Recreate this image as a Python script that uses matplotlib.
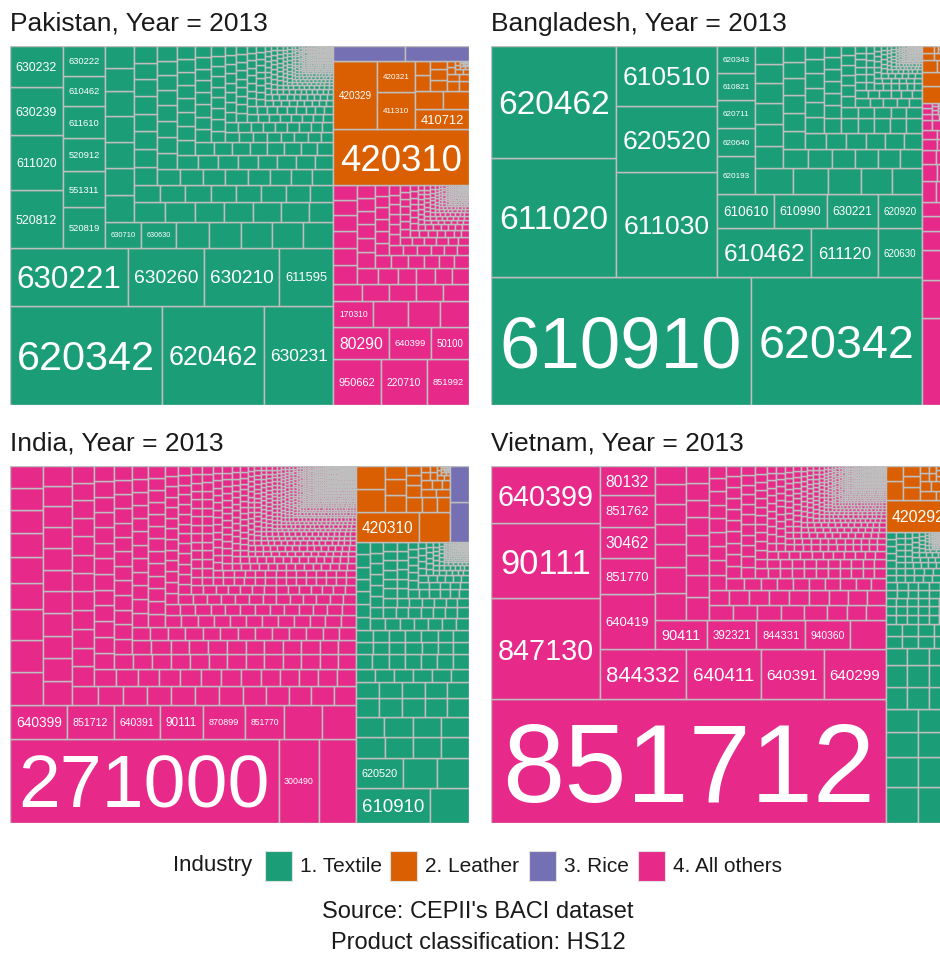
import matplotlib
matplotlib.use("Agg")
import matplotlib.pyplot as plt
from matplotlib.patches import Rectangle
from matplotlib.collections import PatchCollection

plt.rcParams['font.family'] = ['Liberation Sans', 'DejaVu Sans']


def vals(text):
    return [int(t) for t in text.split()]


# ---------------- data ----------------
industries = ["1. Textile", "2. Leather", "3. Rice", "4. All others"]
industry_colors = ["#1B9E77", "#D95F02", "#7570B3", "#E7298A"]
countries = ["Pakistan", "Bangladesh", "India", "Vietnam"]
year = 2013

# ---- Pakistan
pk_tex_codes = ["620342", "620462", "630231", "630221", "630260", "630210", "611595", "520812",
                "611020", "630239", "630232", "520819", "551311", "520912", "611610", "610462",
                "630222", "630710", "630630"]
pk_tex_values = [
    15048, 10100, 6900, 6800, 4400, 4350, 3132, 3021, 2915, 2491, 2173,
    1710, 1530, 1400, 1350, 1300, 1250, 940, 910, 870, 830, 815, 810,
    800, 770, 770, 740, 740, 700, 670, 620, 590, 570, 560, 550, 540, 530,
    470, 460, 455, 450, 445, 440, 435]
pk_tex_small = vals("""
425 420 415 410 405 400 395 390 385 380 370 365 360 355 350 345 340 335 330 325 320 315 310 305 300
296 292 288 284 280 276 272 268 264 260 256 252 248 244 240 236 232 228 224 220 216 212 208 204 200
196 192 188 184 180 177 174 171 168 165 162 159 156 153 150 148 146 144 142 140
138 136 134 132 130 128 126 124 122 120 118 116 114 112 110 108 106 104 102 100
98 97 96 95 94 93 92 91 90 89 88 87 86 85 84 83 82 81 80 79 78 77 76 75 74 73 72 71 70 69
68 67 66 65 64 63 62 61 60 60
58 57 56 55 54 53 52 51 50 49 48 47 46 45 44 43 42 41 40 40 39 39 38 38 37 37 36 36 35 35
34 34 33 33 32 32 31 31 30 30 29 29 28 28 28 27 27 27 26 26 26 25 25 25 24 24 24 23 23 23
22 22 22 21 21 21 21 20 20 20 20
19 19 19 19 19 18 18 18 18 18 17 17 17 17 17 17 16 16 16 16 16 16 15 15 15 15 15 15 15
14 14 14 14 14 14 14 13 13 13 13 13 13 13 13 12 12 12 12 12 12 12 12 11 11 11 11 11 11 11 11
10 10 10 10 10 10 10 10 10 9 9 9 9 9 9 9 9 9 8 8 8 8 8 8 8 8 8 8 7 7 7 7 7 7 7 7 7 7
6 6 6 6 6 6 6 6 6 6
5 5 5 5 5 5 5 5 5 5 5 5 5 5 5 5 5 5 5 5 5 5 5 5 5 5 5 5 5 5
4 4 4 4 4 4 4 4 4 4 4 4 4 4 4 4 4 4 4 4 4 4 4 4 4 4 4 4 4 4 4 4 4 4 4 4 4 4 4 4
4 4 4 4 4 4 4 4 4 4
3 3 3 3 3 3 3 3 3 3 3 3 3 3 3 3 3 3 3 3 3 3 3 3 3 3 3 3 3 3 3 3 3 3 3 3 3 3 3 3
3 3 3 3 3 3 3 3 3 3 3 3 3 3 3 3 3 3 3 3 3 3 3 3 3 3 3 3 3 3
2 2 2 2 2 2 2 2 2 2 2 2 2 2 2 2 2 2 2 2 2 2 2 2 2 2 2 2 2 2 2 2 2 2 2 2 2 2 2 2
2 2 2 2 2 2 2 2 2 2 2 2 2 2 2 2 2 2 2 2 2 2 2 2 2 2 2 2 2 2 2 2 2 2 2 2 2 2 2 2
1 1 1 1 1 1 1 1 1 1 1 1 1 1 1 1 1 1 1 1 1 1 1 1 1 1 1 1 1 1 1 1 1 1 1 1 1 1 1 1
1 1 1 1 1 1 1 1 1 1
""")
pk_lea_codes = ["420310", "420329", "411310", "420321", "410712"]
pk_lea_values = [7600, 3000, 1400, 1150, 1100, 500, 460, 240, 220, 190, 170, 140, 120, 100, 85,
                 70, 60, 50, 40, 32, 25, 20, 15, 12, 9, 7, 5, 4, 3, 2, 2, 1, 3, 3, 3, 2, 2, 2]
pk_rice_codes = []
pk_rice_values = [1065, 945]
pk_oth_codes = ["950662", "220710", "851992", "80290", "640399", "50100", "170310"]
pk_oth_values = [2200, 2100, 1960, 1770, 1360, 1220, 1000, 865, 810, 730, 500, 490, 480, 470, 460]
pk_oth_small = vals("""
440 420 400 380 360 345 330 315 300 290 280 270 260 250 240 230 220 212 206 200
195 190 185 180 175 170 165 160 155 150 146 142 138 134 130 126 122 118 114 110 106 102 98 95 92 89 86 83 80 78
76 74 72 70 68 66 64 62 60 58 56 54 52 50 49 48 47 46 45 44 43 42 41 40 39 38 37 36 35 34
33 32 31 30 30 29 29 28 28 27 27 26 26 25 25 25 24 24 24 23
22 22 22 21 21 21 20 20 20 19 19 19 18 18 18 17 17 17 17 16 16 16 16 15 15 15 15
14 14 14 14 13 13 13 13 12 12 12 12 11 11 11 11 11 10 10 10 10 10 9 9 9 9 9
8 8 8 8 8 8 7 7 7 7 7 7 6 6 6 6 6 6
5 5 5 5 5 5 5 5 5 5 5 5 5 5 5 4 4 4 4 4 4 4 4 4 4 4 4 4 4 4 4 4 4 4 4 4 4 4 4 4
3 3 3 3 3 3 3 3 3 3 3 3 3 3 3 3 3 3 3 3 3 3 3 3 3 3 3 3 3 3 3 3 3 3 3
2 2 2 2 2 2 2 2 2 2 2 2 2 2 2 2 2 2 2 2 2 2 2 2 2 2 2 2 2 2 2 2 2 2 2 2 2 2 2 2
1 1 1 1 1 1 1 1 1 1 1 1 1 1 1 1 1 1 1 1 1 1 1 1 1 1 1 1 1 1
""")

# ---- Bangladesh
bd_tex_codes = ["610910", "620342", "611020", "620462", "611030", "620520", "610510", "610462",
                "611120", "620630", "610610", "610990", "630221", "620920", "620193", "620640",
                "620711", "610821", "620343"]
bd_tex_values = [
    33020, 21717, 14880, 13888, 10500, 6700, 6000, 4560, 3264, 2112, 1938, 1800, 1734, 1496,
    1400, 1080, 1050, 1020, 1000, 960, 900, 850, 800, 760, 620, 590, 590, 560, 520, 500, 470, 465, 430, 430]
bd_tex_small = vals("""
420 410 400 390 380 370 360 350 340 330 320 310 300 292 285 278 271 264 257 250
245 240 235 230 225 220 215 210 205 200 195 190 185 180 175 170 165 160 155 150 145 140 135 130 125 120 115 110 105 100
96 92 88 85 82 79 76 73 70 68 66 64 62 60 58 56 54 52 50 48 47 46 45 44 43 42 41 40 39 38 37 36 35 34 33 32 31 30 30 30
29 28 27 26 25 24 23 22 21 20 20 19 19 18 18 17 17 16 16 15 15 15 14 14 14 13 13 13 12 12 12 11 11 11
10 10 10 10 9 9 9 9 8 8 8 8 7 7 7 7 6 6 6 6 6
5 5 5 5 5 5 5 5 5 5 5 5 5 5 5 4 4 4 4 4 4 4 4 4 4 4 4 4 4 4 4 4 4 4 4
3 3 3 3 3 3 3 3 3 3 3 3 3 3 3 3 3 3 3 3 3 3 3 3 3 3 3 3 3 3
2 2 2 2 2 2 2 2 2 2 2 2 2 2 2 2 2 2 2 2 2 2 2 2 2 2 2 2 2 2 2 2 2 2 2
1 1 1 1 1 1 1 1 1 1 1 1 1 1 1 1 1 1 1 1 1 1 1 1 1
""")
bd_lea_codes = []
bd_lea_values = [480, 380, 180, 160, 90, 80, 60, 50, 35, 25, 18, 12, 8, 5, 3, 2, 3, 3, 2, 2, 2]
bd_oth_codes = []
bd_oth_values = [2460, 1060, 840, 560, 420, 380, 300, 300, 260, 220, 200, 190, 170, 150, 130, 115,
                 100, 90, 80, 70, 60, 52, 45, 38, 32, 27, 22, 18, 15, 12, 10, 8, 6, 5, 4, 3, 2, 2, 1, 1,
                 4, 4, 4, 4, 4, 4, 3, 3, 3, 3, 3, 3, 3, 3, 2, 2, 2, 2, 2, 2, 2, 2, 2, 2]

# ---- India
in_oth_codes = ["271000", "300490", "", "640399", "851712", "640391", "90111", "870899", "851770"]
in_oth_values = [
    21760, 3280, 2960, 1856, 1500, 1480, 1410, 1344, 1280, 1216, 1088,
    1056, 1023, 990, 858, 825, 760, 740, 726, 693,
    650, 640, 630, 620, 610, 600, 595, 585, 575, 565, 555,
    470, 460, 455, 450, 445, 440, 435, 430, 425, 420, 415,
    410, 405, 400, 398, 395, 392, 390, 388, 385, 382, 380, 378,
    350, 345, 340, 335, 330, 325, 320, 315, 310, 305, 300, 295]
in_oth_small = vals("""
300 298 296 294 292 290 288 286 284 282 280 278 276 274 272 270 268 266 264 262
260 259 258 257 256 255 254 253 252 251 299 295 291 287 283 279 275 271 267 263
250 248 246 244 242 240 238 236 234 232 230 228 226 224 222 220 218 216 214 212
210 208 206 204 202 200 198 196 194 192 190 188 186 184 182 180 178 176 174 172
170 168 166 164 162 160 158 157 156 155 154 153 152 151 150 149 148 147 146 145
249 245 241 237 233 229 225 221 217 213 209 205 201 197 193 189 185 181 177 173
144 143 142 141 140 139 138 137 136 135 134 133 132 131 130 129 128 127 126 125
124 123 122 121 120 119 118 117 116 115 114 113 112 111 110 109 108 107 106 105
104 103 102 101 100 99 99 98 98 97 97 96 96 95 95 94 94 93 93 92
92 91 91 90 90 89 89 88 88 87 87 86 86 85 85 84 84 83 83 82
82 81 81 80 80 79 79 78 78 77 77 76 76 75 75 74 74 73 73 72
71 71 71 70 70 70 69 69 69 68 68 68 67 67 67 66 66 66 65 65
65 64 64 64 63 63 63 62 62 62 61 61 61 60 60 60 59 59 59 58
58 58 57 57 57 56 56 56 55 55 55 54 54 54 53 53 53 52 52 52
51 51 51 51 50 50 50 50 49 49 49 49 48 48 48 48 47 47 47 47
46 46 46 46 45 45 45 45 44 44 44 44 43 43 43 43 42 42 42 42
41 41 41 41 40 40 40 40 39 39 39 39 38 38 38 38 37 37 37 37
36 36 36 36 35 35 35 35 34 34 34 34 33 33 33 33 32 32 32 32
31 31 31 31 30 30 30 30 29 29 29 29 29 29 29 29 28 28 28 28
28 28 28 28 27 27 27 27 27 27 27 27 26 26 26 26 26 26 26 26
25 25 25 25 25 25 25 25 24 24 24 24 24 24 24 24 24 24 23 23
23 23 23 23 23 23 23 23 22 22 22 22 22 22 22 22 22 22 21 21
21 21 21 21 21 21 21 21 20 20 20 20 20 20 20 20 20 20 20 20
19 19 19 19 19 19 19 19 19 19 19 19 18 18 18 18 18 18 18 18
18 18 18 18 17 17 17 17 17 17 17 17 17 17 17 17 17 17 16 16
16 16 16 16 16 16 16 16 16 16 16 16 15 15 15 15 15 15 15 15
15 15 15 15 15 15 15 15 14 14 14 14 14 14 14 14 14 14 14 14
14 14 13 13 13 13 13 13 13 13 13 13 13 13 13 13 13 13 12 12
12 12 12 12 12 12 12 12 12 12 12 12 12 12 12 12 11 11 11 11
11 11 11 11 11 11 11 11 11 11 11 11 11 11 11 11 10 10 10 10
10 10 10 10 10 10 10 10 10 10 10 10 10 10 10 10 10 10 9 9
9 9 9 9 9 9 9 9 9 9 9 9 9 9 9 9 9 9 9 9
9 9 8 8 8 8 8 8 8 8 8 8 8 8 8 8 8 8 8 8
8 8 8 8 8 8 8 8 7 7 7 7 7 7 7 7 7 7 7 7
7 7 7 7 7 7 7 7 7 7 7 7 7 7 7 7 6 6 6 6
6 6 6 6 6 6 6 6 6 6 6 6 6 6 6 6 6 6 6 6
6 6 6 6 6 6
5 5 5 5 5 5 5 5 5 5 5 5 5 5 5 5 5 5 5 5 5 5 5 5 5 5 5 5 5 5 5 5 5 5 5 5 5 5 5 5
5 5 5 5 5 5 5 5 5 5 5 5 5 5 5 5 5 5 5 5 5 5 5 5 5 5 5 5 5 5 5 5 5 5 5 5 5 5 5 5
4 4 4 4 4 4 4 4 4 4 4 4 4 4 4 4 4 4 4 4 4 4 4 4 4 4 4 4 4 4 4 4 4 4 4 4 4 4 4 4
4 4 4 4 4 4 4 4 4 4 4 4 4 4 4 4 4 4 4 4 4 4 4 4 4 4 4 4 4 4 4 4 4 4 4 4 4 4 4 4
4 4 4 4 4 4 4 4 4 4 4 4 4 4 4 4 4 4 4 4 4 4 4 4 4 4 4 4 4 4 4 4 4 4 4 4 4 4 4 4
3 3 3 3 3 3 3 3 3 3 3 3 3 3 3 3 3 3 3 3 3 3 3 3 3 3 3 3 3 3 3 3 3 3 3 3 3 3 3 3
3 3 3 3 3 3 3 3 3 3 3 3 3 3 3 3 3 3 3 3 3 3 3 3 3 3 3 3 3 3 3 3 3 3 3 3 3 3 3 3
3 3 3 3 3 3 3 3 3 3 3 3 3 3 3 3 3 3 3 3 3 3 3 3 3 3 3 3 3 3 3 3 3 3 3 3 3 3 3 3
3 3 3 3 3 3 3 3 3 3 3 3 3 3 3 3 3 3 3 3 3 3 3 3 3 3 3 3 3 3 3 3 3 3 3 3 3 3 3 3
3 3 3 3 3 3 3 3 3 3 3 3 3 3 3 3 3 3 3 3 3 3 3 3 3 3 3 3 3 3 3 3 3 3 3 3 3 3 3 3
2 2 2 2 2 2 2 2 2 2 2 2 2 2 2 2 2 2 2 2 2 2 2 2 2 2 2 2 2 2 2 2 2 2 2 2 2 2 2 2
2 2 2 2 2 2 2 2 2 2 2 2 2 2 2 2 2 2 2 2 2 2 2 2 2 2 2 2 2 2 2 2 2 2 2 2 2 2 2 2
2 2 2 2 2 2 2 2 2 2 2 2 2 2 2 2 2 2 2 2 2 2 2 2 2 2 2 2 2 2 2 2 2 2 2 2 2 2 2 2
2 2 2 2 2 2 2 2 2 2 2 2 2 2 2 2 2 2 2 2 2 2 2 2 2 2 2 2 2 2 2 2 2 2 2 2 2 2 2 2
2 2 2 2 2 2 2 2 2 2 2 2 2 2 2 2 2 2 2 2 2 2 2 2 2 2 2 2 2 2 2 2 2 2 2 2 2 2 2 2
2 2 2 2 2 2 2 2 2 2 2 2 2 2 2 2 2 2 2 2 2 2 2 2 2 2 2 2 2 2 2 2 2 2 2 2 2 2 2 2
1 1 1 1 1 1 1 1 1 1 1 1 1 1 1 1 1 1 1 1 1 1 1 1 1 1 1 1 1 1 1 1 1 1 1 1 1 1 1 1
1 1 1 1 1 1 1 1 1 1 1 1 1 1 1 1 1 1 1 1 1 1 1 1 1 1 1 1 1 1 1 1 1 1 1 1 1 1 1 1
1 1 1 1 1 1 1 1 1 1 1 1 1 1 1 1 1 1 1 1 1 1 1 1 1 1 1 1 1 1 1 1 1 1 1 1 1 1 1 1
1 1 1 1 1 1 1 1 1 1 1 1 1 1 1 1 1 1 1 1 1 1 1 1 1 1 1 1 1 1
""")
in_tex_codes = ["610910", "", "620520"]
in_tex_values = [
    2520, 1330, 1320, 960, 880, 600, 590, 580, 570, 540, 535, 530, 525,
    420, 415, 410, 405, 400, 375, 370, 365, 360, 355,
    240, 238, 236, 234, 232, 230, 226, 224, 222, 220, 218, 216,
    212, 208, 204, 200, 196, 192, 188, 184, 180, 176, 172, 168, 164, 160]
in_tex_small = vals("""
200 196 192 188 184 180 176 172 168 164 160 156
150 148 146 144 142 140 138 136 134 132 130 129 128 127 126 125 124 123 122 121
120 119 118 117 116 115 113 111 110 108 106 104 102 100 98 96 94 92 90 88
86 84 82 80 78 76 74 72 70 68 66 64 62 60 58 56 54 52 50 48
46 45 44 42 41 40 38 37 36 34 33 33 32 31 30 29 29 28 27 26
25 25 24 23 22 21 21 20 19 18 17 17 16 15 14 13 13 12 11 10
9 9 8 7 6 5 5 5 4 4 3 3 2 2 2 1 1 1 1
6 6 6 6 6 6 6 6 6 6 5 5 5 5 5 5 5 5 5 5 5 5
4 4 4 4 4 4 4 4 4 4 4 4 4 4 4 3 3 3 3 3 3 3 3 3 3 3 3 3 3 3
3 3 3 3 3 3 3 3 3 3 3 3 3 3 3 3 3 3 3 3
2 2 2 2 2 2 2 2 2 2 2 2 2 2 2 2 2 2 2 2 2 2 2 2 2 2 2 2 2 2
2 2 2 2 2 2 2 2 2 2 2 2 2 2 2
1 1 1 1 1 1 1 1 1 1 1 1 1 1 1 1 1 1 1 1 1 1 1 1 1 1 1 1 1 1
""")
in_lea_codes = ["420310"]
in_lea_values = [1850, 900, 660, 640, 330, 320, 250, 230, 210, 190, 170, 150, 130, 120, 110, 95,
                 85, 75, 65, 55, 48, 40, 34, 28, 23, 18, 14, 11, 8, 6, 4, 3, 2, 1,
                 3, 3, 3, 3, 3, 2, 2, 2, 2, 2, 2]
in_rice_codes = []
in_rice_values = [720, 660]

# ---- Vietnam
vn_oth_codes = ["851712", "847130", "90111", "640399", "844332", "640411", "640391", "640299",
                "640419", "851770", "30462", "851762", "80132", "90411", "392321", "844331", "940360"]
vn_oth_values = [
    48856, 11009, 8175, 6213, 4300, 3750, 3150, 3100, 3000, 1972, 1740, 1720, 1600,
    1490, 1440, 1400, 1300, 1020, 840, 780, 720, 610, 600, 540, 620, 560, 500, 470, 450, 430, 400,
    390, 385, 380, 375, 370, 365, 360, 310, 305, 300, 298, 295, 292, 290, 288]
vn_oth_small = vals("""
285 280 275 270 265 260 255 250 245 240 235 228 220 212 205
198 195 192 190 188 185 182 180 178 175 172 170 168 165 162 160 158 155 152 150
148 145 142 140 138 135 132 130 128 126 124 122 121 120 119
118 117 116 115 114 113 112 111 110 109 108 107 106 105 104 103 102 101 100 99
98 97 96 95 94 93 92 91 90 89 88 87 86 85 84 83 82 81 80 79
78 77 76 75 74 73 72 71 70 69 68 67 66 65 64 63 62 61 60 60
59 59 58 58 57 57 56 56 55 55
54 54 54 53 53 53 52 52 52 51 51 51 50 50 50 49 49 49 48 48 48 47 47 47 46 46 46 45 45 45
44 44 44 44 43 43 43 43 42 42 42 42 41 41 41 41 40 40 40 40
39 39 39 39 38 38 38 38 37 37 37 37 36 36 36 36 35 35 35 35
34 34 34 33 33 33 32 32 32 31 31 31 30 30 30 29 29 29 28 28 28 27 27 27 26 26 26 25 25 25
24 24 24 24 24 24 23 23 23 23 23 23 22 22 22 22 22 22 21 21 21 21 21 21 21
20 20 20 20 20 20 20 19 19 19 19 19 19 19 18 18 18 18 18 18 18 18
17 17 17 17 17 17 17 17 16 16 16 16 16 16 16 16 15 15 15 15 15 15 15 15 15
14 14 14 14 14 14 14 14 14 13 13 13 13 13 13 13 13 13
12 12 12 12 12 12 12 12 12 12 11 11 11 11 11 11 11 11 11 11 10 10 10 10 10 10 10 10 10 10
9 9 9 9 9 9 9 9 9 9 9 9 9 9 9 9 9 9 9 9
8 8 8 8 8 8 8 8 8 8 8 8 8 8 8 8 8 8 8 8 8 8 8 8 8
7 7 7 7 7 7 7 7 7 7 7 7 7 7 7 7 7 7 7 7 7 7 7 7 7 7 7 7 7 7
6 6 6 6 6 6 6 6 6 6 6 6 6 6 6 6 6 6 6 6 6 6 6 6 6 6 6 6 6 6 6 6 6 6 6
5 5 5 5 5 5 5 5 5 5 5 5 5 5 5 5 5 5 5 5 5 5 5 5 5 5 5 5 5 5 5 5 5 5 5 5 5 5 5 5
4 4 4 4 4 4 4 4 4 4 4 4 4 4 4 4 4 4 4 4 4 4 4 4 4 4 4 4 4 4 4 4 4 4 4 4 4 4 4 4
4 4 4 4 4 4 4 4 4 4 4 4 4 4 4 4 4 4 4 4 4 4 4 4 4 4 4 4 4 4 4 4 4 4 4 4 4 4 4 4
3 3 3 3 3 3 3 3 3 3 3 3 3 3 3 3 3 3 3 3 3 3 3 3 3 3 3 3 3 3 3 3 3 3 3 3 3 3 3 3
3 3 3 3 3 3 3 3 3 3 3 3 3 3 3 3 3 3 3 3 3 3 3 3 3 3 3 3 3 3 3 3 3 3 3 3 3 3 3 3
3 3 3 3 3 3 3 3 3 3 3 3 3 3 3 3 3 3 3 3 3 3 3 3 3 3 3 3 3 3 3 3 3 3 3 3 3 3 3 3
2 2 2 2 2 2 2 2 2 2 2 2 2 2 2 2 2 2 2 2 2 2 2 2 2 2 2 2 2 2 2 2 2 2 2 2 2 2 2 2
2 2 2 2 2 2 2 2 2 2 2 2 2 2 2 2 2 2 2 2 2 2 2 2 2 2 2 2 2 2 2 2 2 2 2 2 2 2 2 2
2 2 2 2 2 2 2 2 2 2 2 2 2 2 2 2 2 2 2 2 2 2 2 2 2 2 2 2 2 2 2 2 2 2 2 2 2 2 2 2
2 2 2 2 2 2 2 2 2 2 2 2 2 2 2 2 2 2 2 2 2 2 2 2 2 2 2 2 2 2
1 1 1 1 1 1 1 1 1 1 1 1 1 1 1 1 1 1 1 1 1 1 1 1 1 1 1 1 1 1 1 1 1 1 1 1 1 1 1 1
1 1 1 1 1 1 1 1 1 1 1 1 1 1 1 1 1 1 1 1 1 1 1 1 1 1 1 1 1 1 1 1 1 1 1 1 1 1 1 1
1 1 1 1 1 1 1 1 1 1 1 1 1 1 1 1 1 1 1 1
""")
vn_tex_codes = []
vn_tex_values = [
    1190, 1150, 980, 960, 800, 780, 760, 750, 480, 475, 470, 460, 455, 450, 370, 365, 360,
    200, 200, 200, 200, 190, 190, 190, 190, 100, 100, 100, 100, 100, 100, 95, 95, 95, 95, 95, 95,
    90, 90, 90, 90, 90, 90]
vn_tex_small = vals("""
88 87 86 85 84 83 82 81 80 79 78 77 76 75 74 73 72 71 70 69
68 67 66 65 64 63 62 61 60 59 58 57 56 55 54 53 52 51 50 49
48 47 46 45 44 43 42 41 40 39 38 37 36 35 34 33 32 31 30 29
28 27 26 25 24 23 22 21 20 19 18 17 16 15 14 13 12 11 10 9
8 7 6 5 4 3 2 1
5 5 5 5 5 5 5 5 5 5 4 4 4 4 4 4 4 4 4 4 4 4
3 3 3 3 3 3 3 3 3 3 3 3 3 3 3 3 3 3 3 3 3 3 3 3 3 3 3 3 3 3 3 3
2 2 2 2 2 2 2 2 2 2 2 2 2 2 2 2 2 2 2 2 2 2 2 2 2 2 2 2 2 2 2 2 2 2 2 2 2 2 2 2
1 1 1 1 1 1 1 1 1 1 1 1 1 1 1 1 1 1 1 1
""")
vn_lea_codes = ["420292"]
vn_lea_values = [2080, 320, 260, 220, 200, 170, 150, 130, 110, 95, 85, 75, 65, 55, 48, 40, 34,
                 28, 23, 18, 14, 11, 8, 6, 4, 3, 2, 1, 3, 3, 3, 3, 2, 2, 2, 2]

data = {
    "Pakistan": {"1. Textile": (pk_tex_codes, pk_tex_values + pk_tex_small),
                 "2. Leather": (pk_lea_codes, pk_lea_values),
                 "3. Rice": (pk_rice_codes, pk_rice_values),
                 "4. All others": (pk_oth_codes, pk_oth_values + pk_oth_small)},
    "Bangladesh": {"1. Textile": (bd_tex_codes, bd_tex_values + bd_tex_small),
                   "2. Leather": (bd_lea_codes, bd_lea_values),
                   "4. All others": (bd_oth_codes, bd_oth_values)},
    "India": {"1. Textile": (in_tex_codes, in_tex_values + in_tex_small),
              "2. Leather": (in_lea_codes, in_lea_values),
              "3. Rice": (in_rice_codes, in_rice_values),
              "4. All others": (in_oth_codes, in_oth_values + in_oth_small)},
    "Vietnam": {"1. Textile": (vn_tex_codes, vn_tex_values + vn_tex_small),
                "2. Leather": (vn_lea_codes, vn_lea_values),
                "4. All others": (vn_oth_codes, vn_oth_values + vn_oth_small)},
}

# ---------------- layout helpers ----------------
W, H = 940, 958
BORDER = "#BEBEBE"
LW = 1.05


def worst(row, side):
    s = sum(row)
    return max(max(side * side * r / (s * s), (s * s) / (side * side * r)) for r in row)


def squarify(areas, x, y, w, h):
    rects = []
    i, n = 0, len(areas)
    while i < n:
        vertical = w >= h
        side = h if vertical else w
        if side <= 0:
            side = 1e-12
        row = [areas[i]]
        j = i + 1
        cur = worst(row, side)
        while j < n:
            nw = worst(row + [areas[j]], side)
            if nw <= cur:
                row.append(areas[j])
                cur = nw
                j += 1
            else:
                break
        s = sum(row)
        t = s / side
        if vertical:
            yy = y
            for a in row:
                hh = a / t
                rects.append((x, yy, t, hh))
                yy += hh
            x += t
            w -= t
        else:
            xx = x
            for a in row:
                ww = a / t
                rects.append((xx, y, ww, t))
                xx += ww
            y += t
            h -= t
        i = j
    return rects


def draw_panel(country, left, top, pw, ph):
    ax = fig.add_axes([left / W, 1 - (top + ph) / H, pw / W, ph / H])
    ax.set_xlim(0, 1)
    ax.set_ylim(0, 1)
    ax.axis("off")
    groups = []
    for k, ind in enumerate(industries):
        if ind in data[country]:
            codes, vs = data[country][ind]
            groups.append((sum(vs), k, codes, vs))
    groups.sort(key=lambda g: -g[0])
    total = sum(g[0] for g in groups)
    top_rects = squarify([g[0] / total for g in groups], 0.0, 0.0, 1.0, 1.0)
    for (gt, k, codes, vs), (gx, gy, gw, gh) in zip(groups, top_rects):
        items = [(v, codes[i] if i < len(codes) else "") for i, v in enumerate(vs)]
        items.sort(key=lambda t: -t[0])
        s = sum(v for v, _ in items)
        areas = [v / s * gw * gh for v, _ in items]
        rects = squarify(areas, gx, gy, gw, gh)
        patches = [Rectangle((rx, ry), rw, rh) for rx, ry, rw, rh in rects]
        pc = PatchCollection(patches, facecolor=industry_colors[k], edgecolor=BORDER,
                             linewidth=LW)
        ax.add_collection(pc)
        for (v, lab), (rx, ry, rw, rh) in zip(items, rects):
            if not lab:
                continue
            wpx, hpx = rw * pw, rh * ph
            fs_px = min((wpx - 10) / (len(lab) * 0.556), (hpx - 8) * 1.1) * 0.97
            fs = fs_px * 0.72
            if fs < 3:
                continue
            ax.text(rx + rw / 2, ry + rh / 2, lab, ha="center", va="center_baseline",
                    color="white", fontsize=fs, family=["Liberation Sans", "DejaVu Sans"])
    return ax


fig = plt.figure(figsize=(W / 100, H / 100), dpi=100)
fig.patch.set_facecolor("white")

panels = [("Pakistan", 10, 46, 459, 359, 31),
          ("Bangladesh", 491, 46, 459, 359, 31),
          ("India", 10, 466, 459, 357, 450),
          ("Vietnam", 491, 466, 459, 357, 450)]
for country, left, top, pw, ph, base in panels:
    draw_panel(country, left, top, pw, ph)
    fig.text(left / W, 1 - base / H, f"{country}, Year = {year}", ha="left", va="baseline",
             fontsize=19, color="#1A1A1A")

# ---------------- legend & caption ----------------
ov = fig.add_axes([0, 0, 1, 1])
ov.set_xlim(0, W)
ov.set_ylim(H, 0)
ov.axis("off")
ov.patch.set_alpha(0)
ov.text(173, 866, "Industry", ha="left", va="center", fontsize=16, color="#1A1A1A")
key_x = [265, 390, 529, 638]
for k, ind in enumerate(industries):
    ov.add_patch(Rectangle((key_x[k], 851), 27, 30, facecolor=industry_colors[k],
                           edgecolor="#E0E0E0", linewidth=0.8))
    ov.text(key_x[k] + 35, 866, ind, ha="left", va="center", fontsize=15, color="#1A1A1A")
ov.text(478, 912, "Source: CEPII's BACI dataset", ha="center", va="center", fontsize=17,
        color="#1A1A1A")
ov.text(478, 943, "Product classification: HS12", ha="center", va="center", fontsize=17,
        color="#1A1A1A")

fig.savefig("out.png", dpi=100)
